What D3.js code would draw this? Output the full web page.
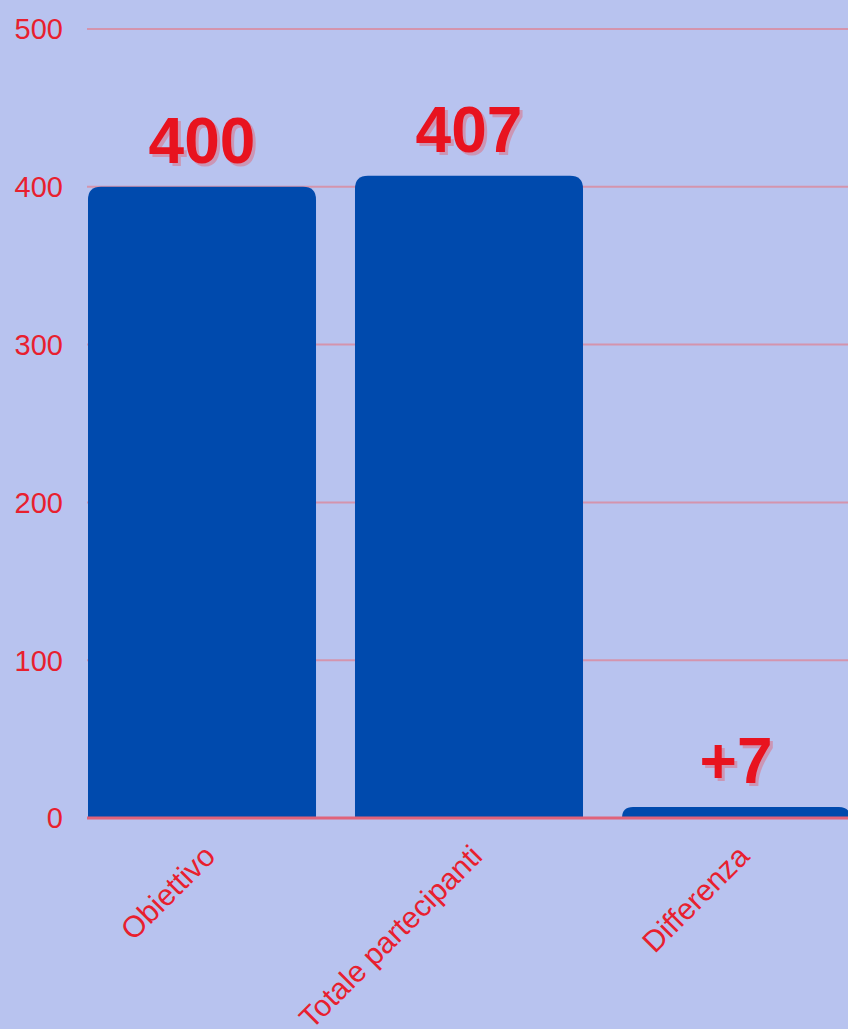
<!DOCTYPE html>
<html>
<head>
<meta charset="utf-8">
<script src="https://cdn.jsdelivr.net/npm/d3@7"></script>
<style>
  html, body { margin: 0; padding: 0; background: #b8c3ef; }
  svg { display: block; font-family: "Liberation Sans", Arial, sans-serif; }
</style>
</head>
<body>
<div class="display__svg"></div>
<script>
// chart data
const categories = ["Obiettivo", "Totale partecipanti", "Differenza"];
const values = [400, 407, 7];
const valueLabels = ["400", "407", "+7"];
const yTicks = [0, 100, 200, 300, 400, 500];

const width = 848, height = 1029;
const margin = { top: 29, left: 87, bottom: 211 };
const zeroY = height - margin.bottom;

const svg = d3.select(".display__svg")
  .append("svg")
  .attr("width", width)
  .attr("height", height);

svg.append("rect")
  .attr("width", width)
  .attr("height", height)
  .attr("fill", "#b8c3ef");

//y scale
const yScale = d3.scaleLinear()
  .domain([0, 500])
  .range([zeroY, margin.top]);

//x scale, last band runs past the right edge
const xScale = d3.scaleBand()
  .domain(categories)
  .range([88, 850])
  .paddingInner(0.146)
  .paddingOuter(0);

//grid lines
svg.append("g")
  .selectAll("line")
  .data(yTicks.filter(d => d > 0))
  .enter()
  .append("line")
  .attr("x1", margin.left)
  .attr("x2", width)
  .attr("y1", d => yScale(d))
  .attr("y2", d => yScale(d))
  .attr("stroke", "#d494ad")
  .attr("stroke-width", 2);

//y tick labels
svg.append("g")
  .selectAll("text")
  .data(yTicks)
  .enter()
  .append("text")
  .attr("x", 63)
  .attr("y", d => yScale(d))
  .attr("dy", "0.36em")
  .attr("text-anchor", "end")
  .attr("fill", "#e8202e")
  .style("font-size", "29px")
  .text(d => d);

//bar path with rounded top corners
function barPath(x, y, w, h, r) {
  r = Math.min(r, h, w / 2);
  return `M${x},${y + h}V${y + r}Q${x},${y} ${x + r},${y}H${x + w - r}Q${x + w},${y} ${x + w},${y + r}V${y + h}Z`;
}

svg.append("g")
  .selectAll("path")
  .data(values)
  .enter()
  .append("path")
  .attr("fill", "#004aad")
  .attr("d", (d, i) => {
    const y = yScale(d);
    return barPath(xScale(categories[i]), y, xScale.bandwidth(), zeroY - y, 13);
  });

//zero line
svg.append("line")
  .attr("x1", margin.left)
  .attr("x2", width)
  .attr("y1", zeroY)
  .attr("y2", zeroY)
  .attr("stroke", "#e0637a")
  .attr("stroke-width", 3);

//value labels with soft shadow
const labels = svg.append("g")
  .selectAll("g")
  .data(values)
  .enter()
  .append("g")
  .attr("transform", (d, i) => `translate(${xScale(categories[i]) + xScale.bandwidth() / 2},${yScale(d) - 24})`);

labels.append("text")
  .attr("x", 3)
  .attr("y", 3)
  .attr("text-anchor", "middle")
  .attr("fill", "#d9798f")
  .attr("opacity", 0.6)
  .style("font-size", "64px")
  .style("font-weight", "bold")
  .text((d, i) => valueLabels[i]);

labels.append("text")
  .attr("text-anchor", "middle")
  .attr("fill", "#e8131f")
  .style("font-size", "64px")
  .style("font-weight", "bold")
  .text((d, i) => valueLabels[i]);

//rotated category labels
svg.append("g")
  .selectAll("text")
  .data(categories)
  .enter()
  .append("text")
  .attr("text-anchor", "end")
  .attr("fill", "#e8202e")
  .style("font-size", "30px")
  .attr("transform", d => `translate(${xScale(d) + xScale.bandwidth() / 2 + 15},${zeroY + 40}) rotate(-45)`)
  .text(d => d);
</script>
</body>
</html>
